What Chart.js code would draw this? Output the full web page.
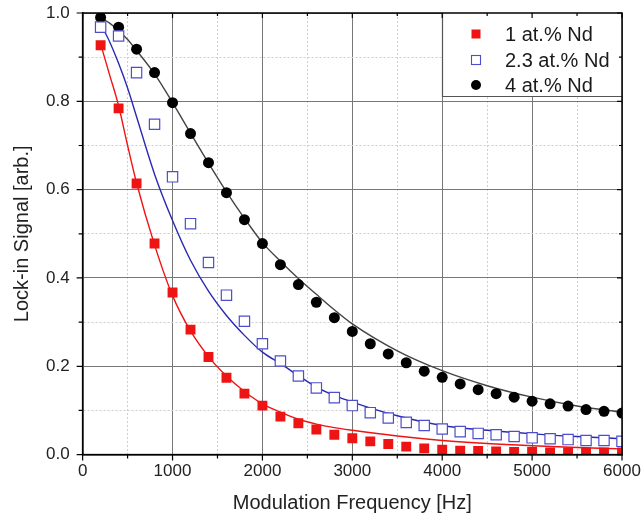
<!DOCTYPE html>
<html><head><meta charset="utf-8">
<script src="https://cdn.jsdelivr.net/npm/chart.js@4.4.1/dist/chart.umd.min.js"></script>
<style>html,body{margin:0;padding:0;background:#fff;}</style>
</head><body>
<canvas id="c" width="644" height="523"></canvas>
<script>
// ---- data ----
const freqs = [200,400,600,800,1000,1200,1400,1600,1800,2000,2200,2400,2600,2800,3000,3200,3400,3600,3800,4000,4200,4400,4600,4800,5000,5200,5400,5600,5800,6000];
const nd1  = [0.927,0.784,0.614,0.478,0.367,0.283,0.221,0.174,0.138,0.111,0.086,0.071,0.057,0.045,0.037,0.030,0.024,0.018,0.014,0.011,0.009,0.008,0.007,0.006,0.006,0.005,0.005,0.005,0.005,0.005];
const nd23 = [0.968,0.948,0.865,0.748,0.629,0.523,0.435,0.361,0.302,0.251,0.212,0.178,0.151,0.129,0.111,0.095,0.083,0.073,0.066,0.058,0.052,0.048,0.045,0.041,0.038,0.036,0.034,0.032,0.032,0.030];
const nd4  = [0.990,0.968,0.918,0.865,0.797,0.727,0.661,0.593,0.532,0.478,0.430,0.385,0.345,0.310,0.279,0.251,0.228,0.208,0.189,0.175,0.160,0.147,0.138,0.130,0.121,0.115,0.110,0.102,0.098,0.094];

const fitFreqs = [200,300,400,500,600,800,1000,1200,1400,1600,1800,2000,2200,2400,2600,2800,3000,3500,4000,4500,5000,5500,6000];
const fit1  = [0.930,0.860,0.790,0.700,0.615,0.475,0.360,0.280,0.222,0.178,0.143,0.115,0.096,0.080,0.069,0.061,0.055,0.042,0.032,0.025,0.020,0.016,0.013];
const fit23 = [0.975,0.935,0.886,0.830,0.765,0.635,0.530,0.440,0.370,0.315,0.270,0.232,0.206,0.179,0.153,0.134,0.119,0.088,0.066,0.055,0.047,0.041,0.036];
const fit4  = [0.990,0.977,0.960,0.940,0.915,0.862,0.797,0.728,0.660,0.595,0.535,0.480,0.438,0.399,0.363,0.328,0.296,0.235,0.190,0.156,0.130,0.110,0.096];

const seriesLabels = ['1 at.% Nd','2.3 at.% Nd','4 at.% Nd'];
const xTitle = 'Modulation Frequency [Hz]';
const yTitle = 'Lock-in Signal [arb.]';
const xRange = [0, 6000];
const yRange = [0, 1.0];

// ---- styling ----
const FONT = '"Liberation Sans", Arial, sans-serif';
const RED = '#ee1414', BLUE_PT = '#4d4dcf', BLUE_LN = '#2a2ab4', BLACK = '#000', BLACK_LN = '#444444';
const NONE = 'rgba(0,0,0,0)';

const pts = (xs, ys) => xs.map((x, i) => ({x, y: ys[i]}));

const frame = {
  id: 'frame',
  afterDatasetsDraw(chart) {
    const {ctx, chartArea: a} = chart;
    // legend box
    const w = 180, h = 84;
    const x0 = Math.round(a.right - w), y0 = Math.round(a.top);
    ctx.save();
    ctx.fillStyle = '#fff';
    ctx.fillRect(x0, y0, w, h);
    ctx.strokeStyle = '#555';
    ctx.lineWidth = 1.2;
    ctx.beginPath();
    ctx.moveTo(x0 + 0.5, y0);
    ctx.lineTo(x0 + 0.5, y0 + h - 0.5);
    ctx.lineTo(a.right, y0 + h - 0.5);
    ctx.stroke();
    const mx = x0 + 34, tx = x0 + 63;
    const rows = [y0 + 21, y0 + 47, y0 + 72];
    ctx.font = '20px ' + FONT;
    ctx.textBaseline = 'middle';
    ctx.textAlign = 'left';
    chart.data.datasets.filter(d => d.isPoints).forEach((d, i) => {
      const y = rows[i];
      if (d.pointStyle === 'circle') {
        ctx.fillStyle = d.backgroundColor;
        ctx.beginPath(); ctx.arc(mx, y, 5, 0, Math.PI * 2); ctx.fill();
      } else if (d.backgroundColor === '#fff') {
        ctx.strokeStyle = d.borderColor; ctx.lineWidth = 1.1;
        ctx.strokeRect(mx - 4.5, y - 4.5, 9, 9);
      } else {
        ctx.fillStyle = d.backgroundColor;
        ctx.fillRect(mx - 4.5, y - 4.5, 9, 9);
      }
      ctx.fillStyle = '#1a1a1a';
      ctx.fillText(d.label, tx, y + 1);
    });
    ctx.restore();
  },
  afterDraw(chart) {
    const {ctx, chartArea: a, scales} = chart;
    ctx.save();
    ctx.strokeStyle = '#000';
    ctx.lineWidth = 1.5;
    ctx.strokeRect(a.left, a.top, a.right - a.left, a.bottom - a.top);
    ctx.lineWidth = 1.2;
    ctx.beginPath();
    scales.x.ticks.forEach(t => {
      const px = scales.x.getPixelForValue(t.value);
      const major = t.value % 1000 === 0;
      const L = major ? 6 : 4;
      ctx.moveTo(px, a.bottom); ctx.lineTo(px, a.bottom + L);
      ctx.moveTo(px, a.top); ctx.lineTo(px, a.top + (major ? 5 : 3));
    });
    scales.y.ticks.forEach(t => {
      const py = scales.y.getPixelForValue(t.value);
      const major = Math.round(t.value * 10) % 2 === 0;
      const L = major ? 6 : 4;
      ctx.moveTo(a.left, py); ctx.lineTo(a.left - L, py);
      ctx.moveTo(a.right, py); ctx.lineTo(a.right - (major ? 5 : 3), py);
    });
    ctx.stroke();
    ctx.restore();
  }
};

new Chart(document.getElementById('c'), {
  type: 'scatter',
  data: {
    datasets: [
      {label: seriesLabels[0], isPoints: true, data: pts(freqs, nd1), pointStyle: 'rect', pointRadius: 7, backgroundColor: RED, borderColor: RED, borderWidth: 0, showLine: false, clip: 0, order: 0},
      {label: seriesLabels[1], isPoints: true, data: pts(freqs, nd23), pointStyle: 'rect', pointRadius: 7.3, backgroundColor: '#fff', borderColor: BLUE_PT, borderWidth: 1.2, showLine: false, clip: 0, order: 0},
      {label: seriesLabels[2], isPoints: true, data: pts(freqs, nd4), pointStyle: 'circle', pointRadius: 5.5, backgroundColor: BLACK, borderColor: BLACK, borderWidth: 0, showLine: false, clip: 0, order: 0},
      {label: 'fit 1', data: pts(fitFreqs, fit1), showLine: true, pointRadius: 0, borderColor: RED, borderWidth: 1.4, cubicInterpolationMode: 'monotone', order: 1},
      {label: 'fit 2.3', data: pts(fitFreqs, fit23), showLine: true, pointRadius: 0, borderColor: BLUE_LN, borderWidth: 1.4, cubicInterpolationMode: 'monotone', order: 1},
      {label: 'fit 4', data: pts(fitFreqs, fit4), showLine: true, pointRadius: 0, borderColor: BLACK_LN, borderWidth: 1.4, cubicInterpolationMode: 'monotone', order: 1}
    ]
  },
  options: {
    responsive: false,
    animation: false,
    events: [],
    layout: {padding: {top: 13, right: 22, bottom: 0, left: 0}},
    plugins: {legend: {display: false}, tooltip: {enabled: false}},
    scales: {
      x: {
        type: 'linear', min: xRange[0], max: xRange[1],
        ticks: {stepSize: 500, autoSkip: false, maxRotation: 0, padding: 0,
          callback: v => (v % 1000 === 0 ? String(v) : ''),
          font: {family: FONT, size: 17}, color: '#222'},
        grid: {drawTicks: true, tickLength: 7, tickColor: NONE, lineWidth: 1,
          color: c => (c.tick && c.tick.value % 1000 === 0 ? '#777777' : '#cfcfcf')},
        border: {display: true, color: '#000', width: 1.5,
          dash: c => (c.tick && c.tick.value % 1000 !== 0 ? [2, 2] : [])},
        title: {display: true, text: xTitle, font: {family: FONT, size: 20}, color: '#222', padding: {top: 9, bottom: 8}}
      },
      y: {
        type: 'linear', min: yRange[0], max: yRange[1],
        ticks: {stepSize: 0.1, autoSkip: false, padding: 0,
          callback: v => (Math.round(v * 10) % 2 === 0 ? v.toFixed(1) : ''),
          font: {family: FONT, size: 17}, color: '#222'},
        grid: {drawTicks: true, tickLength: 13, tickColor: NONE, lineWidth: 1,
          color: c => (c.tick && Math.round(c.tick.value * 10) % 2 === 0 ? '#777777' : '#cfcfcf')},
        border: {display: true, color: '#000', width: 1.5,
          dash: c => (c.tick && Math.round(c.tick.value * 10) % 2 !== 0 ? [2, 2] : [])},
        title: {display: true, text: yTitle, font: {family: FONT, size: 20}, color: '#222', padding: {top: 10, bottom: 12}}
      }
    }
  },
  plugins: [frame]
});
</script>
</body></html>
